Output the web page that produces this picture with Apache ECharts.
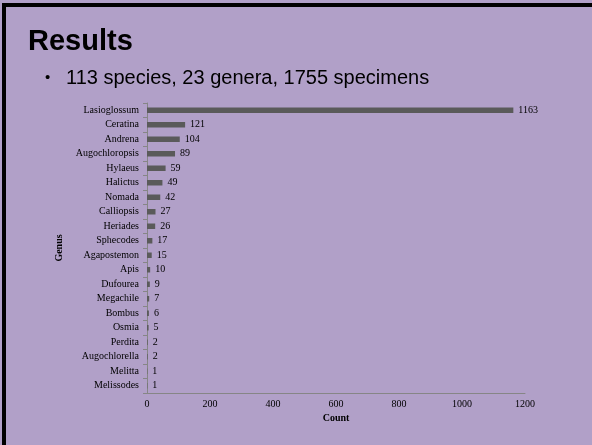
<!DOCTYPE html>
<html>
<head>
<meta charset="utf-8">
<script src="https://cdn.jsdelivr.net/npm/echarts@6/dist/echarts.min.js"></script>
<style>
  html, body { margin: 0; padding: 0; background: #b1a0c8; }
  #chart { width: 592px; height: 445px; }
</style>
</head>
<body>
<div id="chart"></div>
<script>
// Bee genera and specimen counts
const genera = [
  'Lasioglossum', 'Ceratina', 'Andrena', 'Augochloropsis', 'Hylaeus',
  'Halictus', 'Nomada', 'Calliopsis', 'Heriades', 'Sphecodes',
  'Agapostemon', 'Apis', 'Dufourea', 'Megachile', 'Bombus',
  'Osmia', 'Perdita', 'Augochlorella', 'Melitta', 'Melissodes'
];
const counts = [1163, 121, 104, 89, 59, 49, 42, 27, 26, 17, 15, 10, 9, 7, 6, 5, 2, 2, 1, 1];
const countTicks = [0, 200, 400, 600, 800, 1000, 1200];

const headline = 'Results';
const summary = '113 species, 23 genera, 1755 specimens';

const serif = '"Liberation Serif", "Times New Roman", serif';
const sans = '"Liberation Sans", Arial, sans-serif';

const chart = echarts.init(document.getElementById('chart'), null, { renderer: 'canvas' });

chart.setOption({
  backgroundColor: '#b1a0c8',
  animation: false,
  graphic: [
    // frame lines along the top and left edges
    { type: 'rect', shape: { x: 2, y: 3, width: 590, height: 4 }, style: { fill: '#000' } },
    { type: 'rect', shape: { x: 2, y: 3, width: 4, height: 442 }, style: { fill: '#000' } },
    {
      type: 'text', left: 28, top: 27,
      style: { text: headline, font: 'bold 29px ' + sans, fill: '#000' }
    },
    {
      type: 'text', left: 45, top: 70,
      style: { text: '\u2022', font: '15px ' + sans, fill: '#000' }
    },
    {
      type: 'text', left: 66, top: 68,
      style: { text: summary, font: '20px ' + sans, fill: '#000' }
    }
  ],
  grid: { left: 147, right: 67, top: 103, bottom: 52, containLabel: false },
  xAxis: {
    type: 'value',
    min: countTicks[0],
    max: countTicks[countTicks.length - 1],
    interval: countTicks[1] - countTicks[0],
    name: 'Count',
    nameLocation: 'middle',
    nameGap: 20,
    nameTextStyle: { fontFamily: serif, fontWeight: 'bold', fontSize: 10, color: '#000' },
    axisLine: { show: true, lineStyle: { color: '#868686', width: 1 } },
    axisTick: { show: false },
    splitLine: { show: false },
    axisLabel: {
      fontFamily: serif, fontSize: 10, color: '#000', margin: 6,
      formatter: v => String(v)
    }
  },
  yAxis: {
    type: 'category',
    data: genera,
    inverse: true,
    name: 'Genus',
    nameLocation: 'middle',
    nameGap: 74,
    nameRotate: 90,
    nameTextStyle: { fontFamily: serif, fontWeight: 'bold', fontSize: 10, color: '#000' },
    axisLine: { show: true, lineStyle: { color: '#868686', width: 1 } },
    axisTick: { show: true, length: 4, lineStyle: { color: '#868686' } },
    axisLabel: { fontFamily: serif, fontSize: 10, color: '#000', margin: 8 }
  },
  series: [{
    type: 'bar',
    data: counts,
    barCategoryGap: '62%',
    itemStyle: { color: '#5a5a5a' },
    label: {
      show: true,
      position: 'right',
      distance: 5,
      fontFamily: serif,
      fontSize: 10,
      color: '#000'
    }
  }]
});
</script>
</body>
</html>
